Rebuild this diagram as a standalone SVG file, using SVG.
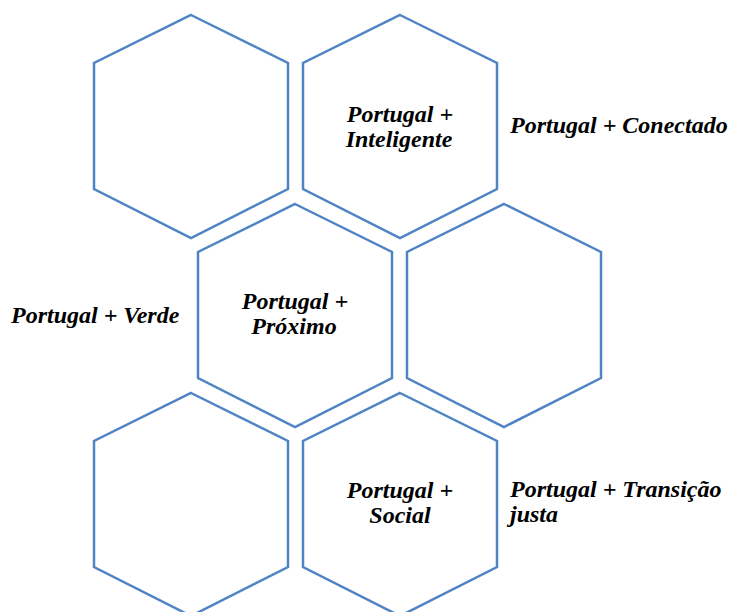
<svg xmlns="http://www.w3.org/2000/svg" width="729" height="612" viewBox="0 0 729 612">
<style>
.hex{fill:#ffffff;stroke:#4F84C4;stroke-width:2.5;stroke-linejoin:miter}
.t{font-family:"Liberation Serif","Times New Roman",serif;font-weight:bold;font-style:italic;font-size:24px;fill:#000000}
.c{text-anchor:middle}
</style>
<defs>
<polygon id="hx" points="97,0 194,48 194,174 97,223 0,174 0,48"/>
</defs>
<rect width="729" height="612" fill="#ffffff"/>
<g id="hex1"><use href="#hx" class="hex" x="94" y="15"/></g>
<g id="hex2"><use href="#hx" class="hex" x="303" y="15"/>
<text class="t c" x="400" y="122">Portugal +</text>
<text class="t c" x="399" y="147">Inteligente</text></g>
<g id="hex3"><use href="#hx" class="hex" x="198" y="204"/>
<text class="t c" x="295" y="309">Portugal +</text>
<text class="t c" x="294" y="334">Próximo</text></g>
<g id="hex4"><use href="#hx" class="hex" x="407" y="204"/></g>
<g id="hex5"><use href="#hx" class="hex" x="94" y="393"/></g>
<g id="hex6"><use href="#hx" class="hex" x="303" y="393"/>
<text class="t c" x="400" y="498">Portugal +</text>
<text class="t c" x="400" y="523">Social</text></g>
<g id="labels">
<text class="t" x="510" y="133">Portugal + Conectado</text>
<text class="t" x="11" y="323">Portugal + Verde</text>
<text class="t" x="510" y="497">Portugal + Transição</text>
<text class="t" x="510" y="522">justa</text>
</g>
<g id="connectors"></g>
</svg>
